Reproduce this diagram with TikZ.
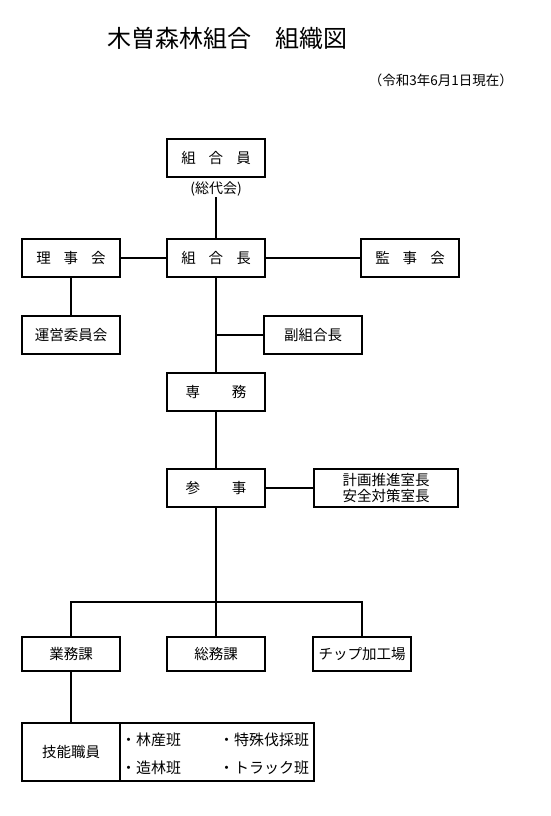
\documentclass[tikz,border=0pt]{standalone}
\usepackage{fontspec}
\newfontfamily\jp{Noto Sans CJK JP}
\begin{document}
\begin{tikzpicture}[x=1pt,y=-1pt,
  box/.style={draw,line width=2pt,minimum width=98pt,minimum height=38pt,inner sep=0pt,
    font=\jp\fontsize{14.5pt}{18pt}\selectfont,align=center},
  lowbox/.style={box,minimum height=34pt},
  conn/.style={line width=2pt},
  item/.style={anchor=west,inner sep=0pt,font=\jp\fontsize{15pt}{18pt}\selectfont}]
\useasboundingbox (0,0) rectangle (550,816);
\fill[white] (0,0) rectangle (550,816);
\node[font=\jp\fontsize{24pt}{28pt}\selectfont,inner sep=0pt] (title) at (227,38) {木曽森林組合　組織図};
\node[font=\jp\fontsize{13.5pt}{16pt}\selectfont,inner sep=0pt,anchor=east] (date) at (513,80) {（令和3年6月1日現在）};
\node[box] (kumiaiin) at (216,158) {組\hspace{13pt}合\hspace{13pt}員};
\node[font=\jp\fontsize{14pt}{16pt}\selectfont,inner sep=1pt] (sodai) at (216,189) {(総代会)};
\node[box] (riji) at (71,258) {理\hspace{13pt}事\hspace{13pt}会};
\node[box] (cho) at (216,258) {組\hspace{13pt}合\hspace{13pt}長};
\node[box] (kanji) at (410,258) {監\hspace{13pt}事\hspace{13pt}会};
\node[box] (unei) at (71,335) {運営委員会};
\node[box] (fuku) at (313,335) {副組合長};
\node[box] (senmu) at (216,392) {専\hspace{32pt}務};
\node[box] (sanji) at (216,488) {参\hspace{32pt}事};
\node[box,minimum width=144pt] (keikaku) at (386,488) {計画推進室長\\[-2pt]安全対策室長};
\node[lowbox] (gyomu) at (71,654) {業務課};
\node[lowbox] (somu) at (216,654) {総務課};
\node[lowbox] (chip) at (362,654) {チップ加工場};
\node[box,minimum height=58pt] (gino) at (71,752) {技能職員};
\node[draw,line width=2pt,minimum width=194pt,minimum height=58pt,inner sep=0pt] (han) at (217,752) {};
\node[item] (h1) at (121,740) {・林産班};
\node[item] (h2) at (219,740) {・特殊伐採班};
\node[item] (h3) at (121,768) {・造林班};
\node[item] (h4) at (219,768) {・トラック班};
\coordinate (fukuj) at (216,335);
\coordinate (busc) at (216,602);
\coordinate (busl) at (71,602);
\coordinate (busr) at (362,602);
\draw[conn] (sodai.south) -- (cho.north);
\draw[conn] (riji.east) -- (cho.west);
\draw[conn] (cho.east) -- (kanji.west);
\draw[conn] (riji.south) -- (unei.north);
\draw[conn] (cho.south) -- (senmu.north);
\draw[conn] (fukuj) -- (fuku.west);
\draw[conn] (senmu.south) -- (sanji.north);
\draw[conn] (sanji.east) -- (keikaku.west);
\draw[conn] (sanji.south) -- (busc);
\draw[conn] (gyomu.north) -- (busl) -- (busr) -- (chip.north);
\draw[conn] (busc) -- (somu.north);
\draw[conn] (gyomu.south) -- (gino.north);
\end{tikzpicture}
\end{document}
